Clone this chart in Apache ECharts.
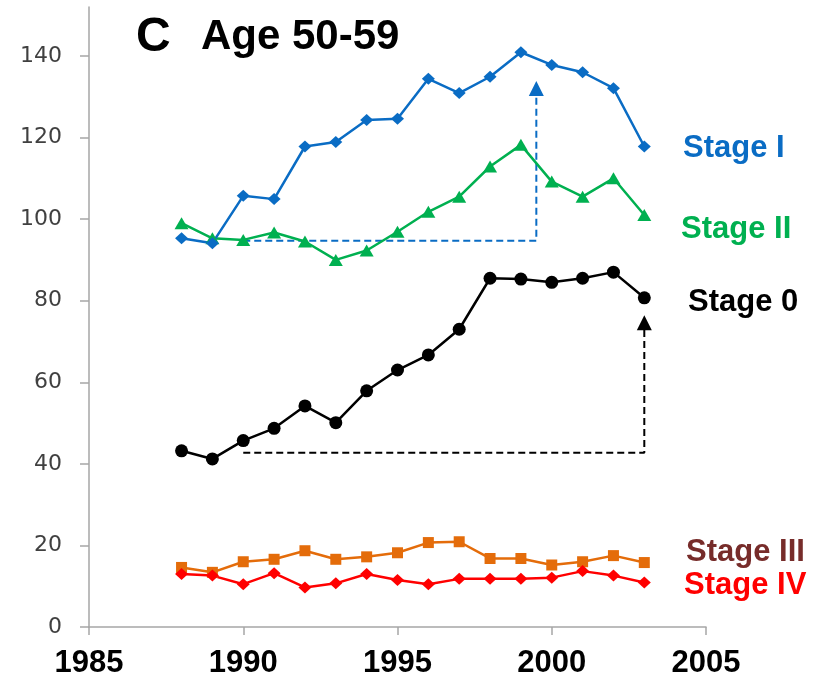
<!DOCTYPE html>
<html>
<head>
<meta charset="utf-8">
<script src="https://cdn.jsdelivr.net/npm/echarts@6/dist/echarts.min.js"></script>
<style>
  html, body { margin: 0; padding: 0; background: #fff; }
  #main { width: 813px; height: 679px; }
</style>
</head>
<body>
<div id="main"></div>
<script>
// years 1988 - 2003
const years = [1988, 1989, 1990, 1991, 1992, 1993, 1994, 1995, 1996, 1997, 1998, 1999, 2000, 2001, 2002, 2003]

const stageI   = [95.3, 94.1, 105.7, 104.9, 117.8, 118.9, 124.3, 124.6, 134.4, 130.9, 134.9, 140.9, 137.8, 136.0, 132.1, 117.8]
const stageII  = [99.0, 95.3, 94.9, 96.7, 94.5, 90.0, 92.3, 96.9, 101.8, 105.5, 112.9, 118.2, 109.2, 105.5, 110.0, 101.0]
const stage0   = [43.2, 41.2, 45.7, 48.7, 54.2, 50.1, 57.9, 63.0, 66.7, 73.0, 85.5, 85.3, 84.5, 85.5, 87.0, 80.7]
const stageIII = [14.6, 13.4, 16.0, 16.6, 18.7, 16.6, 17.2, 18.2, 20.7, 20.9, 16.8, 16.8, 15.2, 16.0, 17.5, 15.8]
const stageIV  = [13.0, 12.6, 10.5, 13.2, 9.7, 10.7, 13.0, 11.5, 10.5, 11.8, 11.8, 11.8, 12.1, 13.7, 12.6, 10.9]

// dashed "change" guides: start year/value -> end year -> arrow value
const guideI = [[1990, 94.7], [1999.5, 94.7], [1999.5, 132.0]]
const guide0 = [[1990, 42.7], [2003, 42.7], [2003, 74.6]]

const yTicks = [0, 20, 40, 60, 80, 100, 120, 140]

const pair = (arr) => years.map((y, i) => [y, arr[i]])

const myChart = echarts.init(document.getElementById('main'))

const lineSerie = (name, data, color, symbol, size, width) => ({
    name: name,
    type: 'line',
    data: pair(data),
    symbol: symbol,
    symbolSize: size,
    showSymbol: true,
    lineStyle: { color: color, width: width },
    itemStyle: { color: color },
    z: 3
})

const guide = (pts, color) => ([
    {
        type: 'line',
        data: pts,
        symbol: 'none',
        lineStyle: { color: color, width: 2, type: [7, 4] },
        z: 2
    },
    {
        type: 'scatter',
        data: [pts[pts.length - 1]],
        symbol: 'triangle',
        symbolSize: [15, 15],
        itemStyle: { color: color, opacity: 1 },
        z: 2
    }
])

const labelText = (text, left, y, color) => ({
    type: 'text',
    left: left,
    top: y,
    style: {
        text: text,
        fill: color,
        font: 'bold 31px "Liberation Sans", Arial, sans-serif'
    }
})

myChart.setOption({
    animation: false,
    grid: { left: 89, right: 107, top: 7, bottom: 52 },
    xAxis: {
        type: 'value',
        min: 1985,
        max: 2005,
        interval: 5,
        splitLine: { show: false },
        axisLine: { show: true, lineStyle: { color: '#a6a6a6', width: 1.5 } },
        axisTick: { show: true, length: 8, lineStyle: { color: '#a6a6a6', width: 1.5 } },
        axisLabel: {
            color: '#000',
            fontFamily: '"Liberation Sans", Arial, sans-serif',
            fontWeight: 'bold',
            fontSize: 31,
            margin: 21,
            formatter: (v) => String(v)
        }
    },
    yAxis: {
        type: 'value',
        min: 0,
        max: 152,
        splitLine: { show: false },
        axisLine: { show: true, lineStyle: { color: '#a6a6a6', width: 1.5 } },
        axisTick: { show: true, length: 9, customValues: yTicks, lineStyle: { color: '#a6a6a6', width: 1.5 } },
        axisLabel: {
            customValues: yTicks,
            color: '#404040',
            fontFamily: '"DejaVu Sans", sans-serif',
            fontSize: 22,
            margin: 27
        }
    },
    series: [
        ...guide(guideI, '#0a6cc4'),
        ...guide(guide0, '#000000'),
        lineSerie('Stage III', stageIII, '#e46c0a', 'rect', 11, 2.5),
        lineSerie('Stage IV', stageIV, '#ff0000', 'diamond', [13, 12], 2.5),
        lineSerie('Stage 0', stage0, '#000000', 'circle', 13, 2.5),
        lineSerie('Stage II', stageII, '#00b050', 'triangle', [14, 12], 2.5),
        lineSerie('Stage I', stageI, '#0a6cc4', 'diamond', [13, 12], 2.5)
    ],
    graphic: [
        {
            type: 'text', left: 136, top: 14,
            style: { text: 'C', fill: '#000', font: 'bold 48px "Liberation Sans", Arial, sans-serif' }
        },
        {
            type: 'text', left: 201, top: 16,
            style: { text: 'Age 50-59', fill: '#000', font: 'bold 42px "Liberation Sans", Arial, sans-serif' }
        },
        labelText('Stage I', 683, 133, '#0a6cc4'),
        labelText('Stage II', 681, 214, '#00b050'),
        labelText('Stage 0', 688, 287, '#000000'),
        labelText('Stage III', 686, 537, '#772c2a'),
        labelText('Stage IV', 684, 570, '#ff0000')
    ]
})
</script>
</body>
</html>
